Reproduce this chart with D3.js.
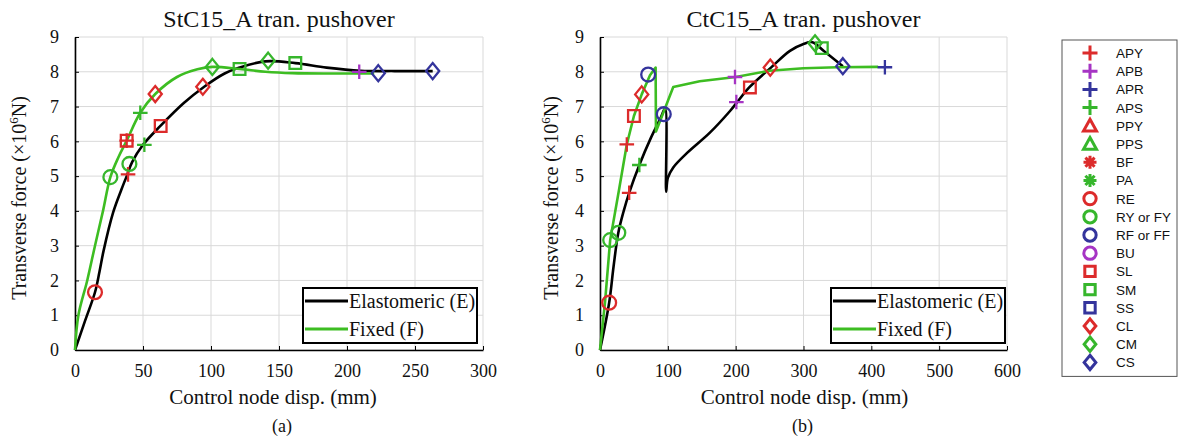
<!DOCTYPE html>
<html>
<head>
<meta charset="utf-8">
<script src="https://cdn.jsdelivr.net/npm/d3@7"></script>
<style>
  body { margin: 0; background: #fff; }
  text { font-family: "Liberation Serif", "Times New Roman", serif; fill: #111; }
  .leg text { font-family: "Liberation Sans", Arial, sans-serif; }
</style>
</head>
<body>
<svg id="fig" width="1179" height="437"></svg>
<script>
// values: disp in mm, force in 10^6 N

// (a) StC15_A
var aDispE = [0, 7.5, 14.7, 18, 21, 28, 34, 38, 42, 50, 63, 80, 95, 110, 121, 140, 162, 185, 210, 235, 263];
var aForceE = [0, 0.85, 1.66, 2.25, 2.85, 3.95, 4.6, 5.0, 5.4, 5.9, 6.45, 7.1, 7.57, 7.95, 8.12, 8.3, 8.25, 8.12, 8.03, 8.02, 8.02];
var aDispF = [0, 2.5, 9, 14.7, 20.6, 26, 32, 38, 48, 59, 75, 90, 101, 121, 140, 160, 190, 220];
var aForceF = [0, 1, 2, 3, 4, 4.97, 5.55, 6.02, 6.82, 7.36, 7.85, 8.07, 8.14, 8.08, 8.0, 7.96, 7.95, 7.95];
var aMarkCode = ["RE", "APY", "RY", "APS", "SL", "CL", "SM", "CM", "SM", "RY", "SL", "APY", "APS", "CL", "CM", "APB", "CS", "CS"];
var aMarkDisp = [14.7, 39, 40, 51, 63, 94, 121, 142, 162, 26, 38, 38, 48, 59, 101, 209, 223, 263];
var aMarkForce = [1.66, 5.05, 5.35, 5.9, 6.44, 7.57, 8.08, 8.32, 8.25, 4.97, 6.02, 6.02, 6.82, 7.36, 8.14, 8.0, 7.96, 8.02];

// (b) CtC15_A
var bDispE = [0, 13.5, 20, 27, 35, 43, 58, 75, 90, 96, 97.5, 100, 108, 128, 162, 192, 202, 220, 252, 280, 300, 313, 330, 358];
var bForceE = [0, 1.36, 2.4, 3.37, 4.0, 4.52, 5.32, 6.1, 6.7, 6.95, 4.55, 4.95, 5.25, 5.66, 6.25, 6.88, 7.12, 7.55, 8.12, 8.6, 8.8, 8.85, 8.6, 8.16];
var bDispF = [0, 7.5, 15, 28, 39.5, 50, 61.5, 73.7, 82, 82.5, 108, 147, 200, 250, 300, 350, 410];
var bForceF = [0, 1.4, 3.16, 4.6, 5.91, 6.73, 7.35, 7.9, 8.12, 6.28, 7.56, 7.73, 7.85, 8.03, 8.1, 8.13, 8.14];
var bMarkCode = ["RE", "RY", "RY", "APY", "APS", "APY", "SL", "CL", "RF", "RF", "APB", "APB", "SL", "CL", "CM", "SM", "CS", "APR"];
var bMarkDisp = [13.5, 15, 27, 43, 58, 39.5, 50, 61.5, 71, 94, 199, 201, 221, 251, 317, 327, 358, 420];
var bMarkForce = [1.36, 3.16, 3.37, 4.52, 5.32, 5.91, 6.73, 7.35, 7.92, 6.78, 7.85, 7.13, 7.55, 8.12, 8.82, 8.68, 8.16, 8.13];

// damage-state legend
var legendKeys = ["APY", "APB", "APR", "APS", "PPY", "PPS", "BF", "PA", "RE", "RY", "RF", "BU", "SL", "SM", "SS", "CL", "CM", "CS"];
var legendLabels = ["APY", "APB", "APR", "APS", "PPY", "PPS", "BF", "PA", "RE", "RY or FY", "RF or FF", "BU", "SL", "SM", "SS", "CL", "CM", "CS"];
var legendShapes = ["plus", "plus", "plus", "plus", "triangle", "triangle", "asterisk", "asterisk", "circle", "circle", "circle", "circle", "square", "square", "square", "diamond", "diamond", "diamond"];
var legendColors = ["red", "magenta", "blue", "green", "red", "green", "red", "green", "red", "green", "blue", "magenta", "red", "green", "blue", "red", "green", "blue"];

var seriesNames = ["Elastomeric (E)", "Fixed (F)"];
var yTicks = [0, 1, 2, 3, 4, 5, 6, 7, 8, 9];

var palette = { red: "#dc2b2b", magenta: "#a634c4", blue: "#34349c", green: "#36b62c" };
var lineColors = ["#000", "#3dbd22"];

var svg = d3.select("#fig");

function shapePath(shape, s) {
  if (shape == "plus") return "M" + (-s) + ",0H" + s + "M0," + (-s) + "V" + s;
  if (shape == "asterisk") {
    var p = "";
    for (var k = 0; k < 4; k++) {
      var a = k * Math.PI / 4;
      p += "M" + (-s * Math.cos(a)) + "," + (-s * Math.sin(a)) + "L" + (s * Math.cos(a)) + "," + (s * Math.sin(a));
    }
    return p;
  }
  if (shape == "triangle") return "M0," + (-s) + "L" + s + "," + (s * 0.8) + "H" + (-s) + "Z";
  if (shape == "square") return "M" + (-s * 0.8) + "," + (-s * 0.8) + "H" + (s * 0.8) + "V" + (s * 0.8) + "H" + (-s * 0.8) + "Z";
  if (shape == "diamond") return "M0," + (-s * 1.1) + "L" + (s * 0.9) + ",0L0," + (s * 1.1) + "L" + (-s * 0.9) + ",0Z";
  var r = s * 0.95;
  return "M" + r + ",0A" + r + "," + r + " 0 1,1 " + (-r) + ",0A" + r + "," + r + " 0 1,1 " + r + ",0Z";
}

function build_panel(opt) {
  var x = d3.scaleLinear().domain([0, opt.xmax]).range([opt.left, opt.right]);
  var y = d3.scaleLinear().domain([0, 9]).range([350, 37]);
  var g = svg.append("g");

  // grid
  g.selectAll(".gx").data(opt.xTicks).enter().append("line")
    .attr("x1", d => x(d)).attr("x2", d => x(d))
    .attr("y1", y(0)).attr("y2", y(9))
    .style("stroke", "#d9d9d9").style("stroke-width", 1);
  g.selectAll(".gy").data(yTicks).enter().append("line")
    .attr("x1", x(0)).attr("x2", x(opt.xmax))
    .attr("y1", d => y(d)).attr("y2", d => y(d))
    .style("stroke", "#d9d9d9").style("stroke-width", 1);

  var ax = g.append("g").attr("transform", "translate(0," + y(0) + ")")
    .call(d3.axisBottom(x).tickValues(opt.xTicks).tickSizeInner(-4).tickSizeOuter(0).tickPadding(14));
  var ay = g.append("g").attr("transform", "translate(" + x(0) + ",0)")
    .call(d3.axisLeft(y).tickValues(yTicks).tickSizeInner(-4).tickSizeOuter(0).tickPadding(16));
  [ax, ay].forEach(function (a) {
    a.select(".domain").style("stroke", "#000").style("stroke-width", 1.6);
    a.selectAll(".tick line").style("stroke", "#000");
    a.selectAll("text").style("font-family", "Liberation Serif, serif").style("font-size", "18px").style("fill", "#111");
  });

  // curves
  var series = [[opt.dispE, opt.forceE], [opt.dispF, opt.forceF]];
  series.forEach(function (s, i) {
    var pts = s[0].map((d, j) => [d, s[1][j]]);
    var line = d3.line().x(d => x(d[0])).y(d => y(d[1])).curve(opt.curves[i]);
    g.append("path").datum(pts).attr("d", line)
      .style("fill", "none").style("stroke", lineColors[i]).style("stroke-width", 2.6)
      .style("stroke-linejoin", "round");
  });

  // damage markers
  opt.codes.forEach(function (c, j) {
    var k = legendKeys.indexOf(c);
    g.append("path")
      .attr("transform", "translate(" + x(opt.mDisp[j]) + "," + y(opt.mForce[j]) + ")")
      .attr("d", shapePath(legendShapes[k], 7.3))
      .style("fill", "none").style("stroke", palette[legendColors[k]]).style("stroke-width", 2.3);
  });

  // series legend
  var lx = opt.legX, ly = 288;
  g.append("rect").attr("x", lx).attr("y", ly).attr("width", 174).attr("height", 55)
    .style("fill", "#fff").style("stroke", "#000").style("stroke-width", 2);
  seriesNames.forEach(function (n, i) {
    var yy = ly + 13 + i * 28;
    g.append("line").attr("x1", lx + 2).attr("x2", lx + 45).attr("y1", yy).attr("y2", yy)
      .style("stroke", lineColors[i]).style("stroke-width", 3);
    g.append("text").attr("x", lx + 46).attr("y", yy + 7).style("font-size", "20px").text(n);
  });

  // titles
  var cx = (opt.left + opt.right) / 2;
  g.append("text").attr("x", cx).attr("y", 27).attr("text-anchor", "middle").style("font-size", "24px").text(opt.title);
  g.append("text").attr("x", cx + opt.xLabShift).attr("y", 404).attr("text-anchor", "middle").style("font-size", "21px").text("Control node disp. (mm)");
  g.append("text").attr("x", cx + opt.tagShift).attr("y", 432).attr("text-anchor", "middle").style("font-size", "18px").text(opt.tag);
  var yl = g.append("text").attr("transform", "translate(" + opt.yLabX + ",198) rotate(-90)")
    .attr("text-anchor", "middle").style("font-size", "20px");
  yl.append("tspan").text("Transverse force (\u00d710");
  yl.append("tspan").attr("dy", -8).style("font-size", "13px").text("6");
  yl.append("tspan").attr("dy", 8).text("N)");
}

build_panel({
  title: "StC15_A tran. pushover", tag: "(a)", xmax: 300, xTicks: [0, 50, 100, 150, 200, 250, 300],
  left: 75, right: 483, legX: 303, yLabX: 26, xLabShift: -6, tagShift: 3,
  dispE: aDispE, forceE: aForceE, dispF: aDispF, forceF: aForceF,
  codes: aMarkCode, mDisp: aMarkDisp, mForce: aMarkForce,
  curves: [d3.curveCatmullRom.alpha(0.5), d3.curveCatmullRom.alpha(0.5)]
});
build_panel({
  title: "CtC15_A tran. pushover", tag: "(b)", xmax: 600, xTicks: [0, 100, 200, 300, 400, 500, 600],
  left: 600, right: 1007, legX: 831, yLabX: 558, xLabShift: 1, tagShift: -1,
  dispE: bDispE, forceE: bForceE, dispF: bDispF, forceF: bForceF,
  codes: bMarkCode, mDisp: bMarkDisp, mForce: bMarkForce,
  curves: [d3.curveCatmullRom.alpha(0.5), d3.curveLinear]
});

// damage-state legend on the right
var leg = svg.append("g").attr("class", "leg");
var step = 18.2, top0 = 53;
leg.append("rect").attr("x", 1062).attr("y", 40).attr("width", 115).attr("height", top0 - 40 + step * 17 + 14)
  .style("fill", "#fff").style("stroke", "#555").style("stroke-width", 1);
legendKeys.forEach(function (k, i) {
  var yy = top0 + i * step;
  leg.append("path").attr("transform", "translate(1090," + yy + ")")
    .attr("d", shapePath(legendShapes[i], legendShapes[i] == "plus" ? 7.5 : 6.5))
    .style("fill", "none").style("stroke", palette[legendColors[i]]).style("stroke-width", 3);
  leg.append("text").attr("x", 1116).attr("y", yy + 5).style("font-size", "13.5px").text(legendLabels[i]);
});
</script>
</body>
</html>
